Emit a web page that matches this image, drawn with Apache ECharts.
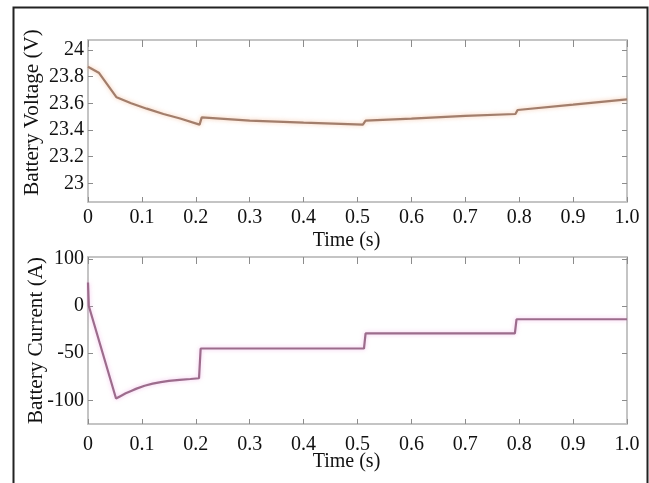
<!DOCTYPE html>
<html>
<head>
<meta charset="utf-8">
<script src="https://cdn.jsdelivr.net/npm/echarts@6/dist/echarts.min.js"></script>
<style>
html,body{margin:0;padding:0;background:#fff;}
#chart{width:649px;height:483px;}
</style>
</head>
<body>
<div id="chart"></div>
<script>
// ---- data ----
const timeTickValues = [0, 0.1, 0.2, 0.3, 0.4, 0.5, 0.6, 0.7, 0.8, 0.9, 1.0];
const timeTickLabels = ['0', '0.1', '0.2', '0.3', '0.4', '0.5', '0.6', '0.7', '0.8', '0.9', '1.0'];

const voltageTickValues = [23, 23.2, 23.4, 23.6, 23.8, 24];
const voltageTickLabels = ['23', '23.2', '23.4', '23.6', '23.8', '24'];

const currentTickValues = [-100, -50, 0, 50];
const currentTickLabels = ['-100', '-50', '0', '100'];

const voltageTime = [0, 0.02, 0.053, 0.08, 0.109, 0.14, 0.171, 0.207, 0.211, 0.3, 0.4, 0.51, 0.515, 0.6, 0.7, 0.793, 0.797, 0.9, 1.0];
const voltageValues = [23.875, 23.83, 23.645, 23.60, 23.56, 23.52, 23.486, 23.44, 23.495, 23.47, 23.455, 23.44, 23.47, 23.486, 23.506, 23.52, 23.55, 23.59, 23.63];

const currentTime = [0, 0.0015, 0.052, 0.06, 0.07, 0.08, 0.09, 0.105, 0.12, 0.135, 0.15, 0.17, 0.19, 0.206, 0.209, 0.512, 0.515, 0.792, 0.795, 1.0];
const currentValues = [25, 0, -98, -95.5, -92.5, -90, -87.5, -84.5, -82.2, -80.6, -79.3, -78.2, -77.3, -76.5, -45, -45, -29, -29, -14, -14];

// ---- build ----
const FONT = '"Liberation Serif", "Times New Roman", serif';
const frameColor = '#c4c4c4';
const tickColor = '#8c8c8c';

function pairs(xs, ys) { return xs.map((x, i) => [x, ys[i]]); }
function lookup(vals, labels) {
  return function (v) {
    for (let i = 0; i < vals.length; i++) if (Math.abs(vals[i] - v) < 1e-6) return labels[i];
    return '';
  };
}

function xAxes(gridIndex, nameGap, labelMargin) {
  return [
    {
      type: 'value', gridIndex: gridIndex, position: 'bottom', min: 0, max: 1, interval: 0.1,
      name: 'Time (s)', nameLocation: 'middle', nameGap: nameGap, nameMoveOverlap: false,
      nameTextStyle: { fontFamily: FONT, fontSize: 20, color: '#111', padding: [0, 22, 0, 0] },
      axisLine: { show: true, onZero: false, lineStyle: { color: frameColor, width: 2 } },
      axisTick: { show: true, inside: true, length: 5, lineStyle: { color: tickColor } },
      axisLabel: { fontFamily: FONT, fontSize: 20, color: '#111', margin: labelMargin,
        formatter: lookup(timeTickValues, timeTickLabels) },
      splitLine: { show: false }
    },
    {
      type: 'value', gridIndex: gridIndex, position: 'top', min: 0, max: 1, interval: 0.1,
      axisLine: { show: true, onZero: false, lineStyle: { color: frameColor, width: 2 } },
      axisTick: { show: true, inside: true, length: 7, lineStyle: { color: tickColor } },
      axisLabel: { show: false },
      splitLine: { show: false }
    }
  ];
}

function yAxes(gridIndex, min, max, vals, labels, name, nameGap, namePad) {
  return [
    {
      type: 'value', gridIndex: gridIndex, position: 'left', min: min, max: max,
      name: name, nameLocation: 'middle', nameGap: nameGap, nameMoveOverlap: false,
      nameTextStyle: { fontFamily: FONT, fontSize: 21.2, color: '#111', padding: namePad },
      axisLine: { show: true, onZero: false, lineStyle: { color: frameColor, width: 2 } },
      axisTick: { show: true, inside: true, length: 5, lineStyle: { color: tickColor }, customValues: vals },
      axisLabel: { fontFamily: FONT, fontSize: 20, color: '#111', margin: 4, customValues: vals,
        formatter: lookup(vals, labels) },
      splitLine: { show: false }
    },
    {
      type: 'value', gridIndex: gridIndex, position: 'right', min: min, max: max,
      axisLine: { show: true, onZero: false, lineStyle: { color: frameColor, width: 2 } },
      axisTick: { show: true, inside: true, length: 5, lineStyle: { color: tickColor }, customValues: vals },
      axisLabel: { show: false },
      splitLine: { show: false }
    }
  ];
}

const chart = echarts.init(document.getElementById('chart'), null, { renderer: 'canvas' });
chart.setOption({
  backgroundColor: '#ffffff',
  animation: false,
  graphic: [{
    type: 'rect', left: 11, top: 5, z: 100, silent: true,
    shape: { width: 634, height: 520 },
    style: { fill: null, stroke: '#222', lineWidth: 2 }
  }],
  grid: [
    { left: 88, right: 22, top: 40, height: 162 },
    { left: 88, right: 22, top: 257, height: 167 }
  ],
  xAxis: xAxes(0, 29, 6).concat(xAxes(1, 28, 11)),
  yAxis: yAxes(0, 22.86, 24.075, voltageTickValues, voltageTickLabels, 'Battery Voltage (V)', 45, [0, 0, 0, 17])
    .concat(yAxes(1, -125, 52, currentTickValues, currentTickLabels, 'Battery Current (A)', 41, [0, 0, 0, 0])),
  series: [
    {
      type: 'line', xAxisIndex: 0, yAxisIndex: 0, showSymbol: false, symbol: 'none',
      data: pairs(voltageTime, voltageValues),
      lineStyle: { color: '#a27e6c', width: 2.2, shadowColor: 'rgba(240,160,110,0.6)', shadowBlur: 4 }
    },
    {
      type: 'line', xAxisIndex: 2, yAxisIndex: 2, showSymbol: false, symbol: 'none',
      data: pairs(currentTime, currentValues),
      lineStyle: { color: '#9c6c8c', width: 2.2, shadowColor: 'rgba(235,140,220,0.55)', shadowBlur: 4 }
    }
  ]
});
</script>
</body>
</html>
